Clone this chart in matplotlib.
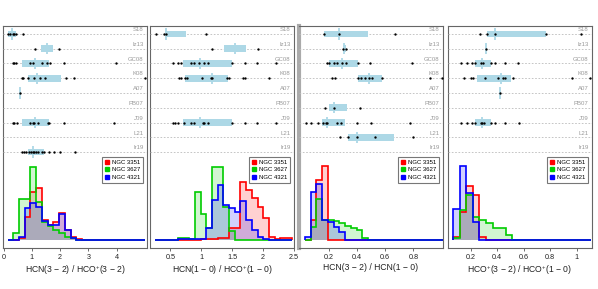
import numpy as np
import matplotlib
matplotlib.use('Agg')
import matplotlib.pyplot as plt
from matplotlib.lines import Line2D

plt.rcParams['font.family'] = ['Liberation Sans', 'DejaVu Sans']
plt.rcParams['mathtext.fontset'] = 'custom'
plt.rcParams['mathtext.rm'] = 'Liberation Sans'
plt.rcParams['mathtext.it'] = 'Liberation Sans:italic'

# literature rows, top to bottom
rows = ['S18', 'Iz13', 'GC08', 'K08', 'A07', 'PB07', 'J09', 'L21', 'Ir19']
galaxies = ['NGC 3351', 'NGC 3627', 'NGC 4321']

# --- panel 1: HCN(3-2)/HCO+(3-2) ---
hcn32_box = {'S18': (0.15, 0.44, 0.29), 'Iz13': (1.32, 1.76, 1.54), 'GC08': (0.64, 1.62, 1.12),
             'K08': (0.85, 2.03, 1.18), 'A07': (0.57, 0.57, 0.57), 'J09': (0.64, 1.59, 1.12),
             'Ir19': (0.85, 1.44, 1.05)}
hcn32_pts = {'S18': [0.14, 0.22, 0.32, 0.38, 0.44, 0.68],
             'Iz13': [1.11, 1.97],
             'GC08': [0.32, 0.38, 0.44, 0.94, 1.03, 1.35, 1.52, 1.64, 2.15, 3.98],
             'K08': [0.64, 0.67, 0.85, 1.09, 1.30, 1.48, 2.22, 2.50, 4.99],
             'A07': [0.57],
             'J09': [0.32, 0.38, 0.47, 0.94, 1.03, 1.09, 1.21, 1.56, 1.60, 2.15, 3.90],
             'Ir19': [0.64, 0.71, 0.79, 0.91, 0.97, 1.03, 1.09, 1.15, 1.23, 1.35, 1.44, 1.62,
                      1.77, 2.01, 2.53]}
hcn32_range = (0.14, 5.0)
hcn32_n3351 = [0, 0, 2, 23, 48, 52, 20, 15, 18, 27, 10, 3, 1, 0, 0, 0, 0, 0, 0, 0, 0, 0, 0, 0]
hcn32_n3627 = [0, 7, 41, 41, 73, 38, 18, 14, 10, 7, 3, 2, 0, 0, 0, 0, 0, 0, 0, 0, 0, 0, 0, 0]
hcn32_n4321 = [0, 0, 3, 32, 37, 33, 19, 15, 15, 26, 10, 2, 0, 0, 0, 0, 0, 0, 0, 0, 0, 0, 0, 0]

# --- panel 2: HCN(1-0)/HCO+(1-0) ---
hcn10_box = {'S18': (0.42, 0.755, 0.435), 'Iz13': (1.37, 1.73, 1.545), 'GC08': (0.70, 1.49, 0.985),
             'K08': (0.73, 1.43, 1.166), 'J09': (0.70, 1.49, 0.985)}
hcn10_pts = {'S18': [0.265, 0.393, 0.435, 1.075],
             'Iz13': [1.18, 1.918],
             'GC08': [0.542, 0.622, 0.665, 0.836, 0.877, 0.969, 1.049, 1.102, 1.502, 1.70, 1.90, 2.21],
             'K08': [0.638, 0.665, 0.729, 0.772, 1.012, 1.156, 1.18, 1.422, 1.449, 1.678, 1.705, 2.089],
             'J09': [0.542, 0.569, 0.622, 0.718, 0.836, 0.877, 1.02, 1.049, 1.102, 1.49, 1.70, 1.90, 2.21]}
hcn10_range = (0.258, 2.46)
hcn10_n3351 = [0, 0, 0, 0, 0, 0, 0, 0, 1, 1, 1, 2, 2, 12, 12, 58, 50, 42, 33, 22, 3, 1, 2, 2]
hcn10_n3627 = [0, 0, 0, 0, 2, 2, 1, 48, 26, 12, 73, 73, 33, 9, 0, 0, 0, 0, 0, 0, 0, 0, 0, 0]
hcn10_n4321 = [0, 0, 0, 0, 1, 1, 1, 1, 1, 12, 40, 55, 35, 32, 28, 39, 20, 10, 3, 1, 0, 0, 0, 0]

# --- panel 3: HCN(3-2)/HCN(1-0) ---
r31_box = {'S18': (0.167, 0.475, 0.271), 'Iz13': (0.300, 0.318, 0.309), 'GC08': (0.20, 0.409, 0.29),
           'K08': (0.409, 0.579, 0.485), 'PB07': (0.20, 0.326, 0.236), 'J09': (0.152, 0.314, 0.188),
           'L21': (0.338, 0.663, 0.402)}
r31_pts = {'S18': [0.167, 0.271, 0.67],
           'Iz13': [0.297, 0.318],
           'GC08': [0.188, 0.202, 0.236, 0.259, 0.29, 0.319, 0.409, 0.494, 0.789],
           'K08': [0.219, 0.243, 0.409, 0.425, 0.456, 0.485, 0.508, 0.579, 0.919, 1.002],
           'PB07': [0.171, 0.236, 0.42],
           'J09': [0.034, 0.072, 0.12, 0.16, 0.176, 0.188, 0.255, 0.283, 0.397, 0.499, 0.776],
           'L21': [0.278, 0.338, 0.402, 0.527, 0.80]}
r31_range = (0.029, 1.01)
r31_n3351 = [0, 20, 60, 74, 0, 0, 0, 0, 0, 0, 0, 0, 0, 0, 0, 0, 0, 0, 0, 0, 0, 0, 0, 0]
r31_n3627 = [0, 13, 41, 20, 20, 19, 17, 14, 12, 10, 2, 0, 0, 0, 0, 0, 0, 0, 0, 0, 0, 0, 0, 0]
r31_n4321 = [3, 48, 56, 20, 18, 13, 8, 0, 0, 0, 0, 0, 0, 0, 0, 0, 0, 0, 0, 0, 0, 0, 0, 0]

# --- panel 4: HCO+(3-2)/HCO+(1-0) ---
hco31_box = {'S18': (0.325, 0.77, 0.38), 'Iz13': (0.312, 0.312, 0.312), 'GC08': (0.23, 0.355, 0.285),
             'K08': (0.247, 0.50, 0.43), 'A07': (0.423, 0.423, 0.423), 'J09': (0.23, 0.355, 0.288)}
hco31_pts = {'S18': [0.268, 0.325, 0.38, 0.77, 1.03],
             'Iz13': [0.312],
             'GC08': [0.125, 0.168, 0.21, 0.23, 0.28, 0.293, 0.35, 0.38, 0.455, 0.56],
             'K08': [0.15, 0.20, 0.218, 0.31, 0.405, 0.443, 0.455, 0.517, 0.962, 1.097],
             'A07': [0.423],
             'J09': [0.125, 0.168, 0.21, 0.23, 0.275, 0.288, 0.30, 0.355, 0.38, 0.455, 0.567]}
hco31_range = (0.068, 1.105)
hco31_n3351 = [3, 28, 54, 45, 3, 0, 0, 0, 0, 0, 0, 0, 0, 0, 0, 0, 0, 0, 0, 0, 0]
hco31_n3627 = [2, 30, 45, 23, 20, 17, 12, 12, 5, 0, 0, 0, 0, 0, 0, 0, 0, 0, 0, 0, 0]
hco31_n4321 = [31, 74, 47, 18, 0, 0, 0, 0, 0, 0, 0, 0, 0, 0, 0, 0, 0, 0, 0, 0, 0]

panels = [
    dict(box=hcn32_box, pts=hcn32_pts, rng=hcn32_range, hist=[hcn32_n3351, hcn32_n3627, hcn32_n4321],
         xlim=(-0.02, 5.07), ticks=[0, 1, 2, 3, 4], labels=['0', '1', '2', '3', '4'],
         xlabel='HCN(3 − 2) / HCO$^{+}$(3 − 2)', left=3),
    dict(box=hcn10_box, pts=hcn10_pts, rng=hcn10_range, hist=[hcn10_n3351, hcn10_n3627, hcn10_n4321],
         xlim=(0.17, 2.49), ticks=[0.5, 1, 1.5, 2, 2.5], labels=['0.5', '1', '1.5', '2', '2.5'],
         xlabel='HCN(1 − 0) / HCO$^{+}$(1 − 0)', left=150),
    dict(box=r31_box, pts=r31_pts, rng=r31_range, hist=[r31_n3351, r31_n3627, r31_n4321],
         xlim=(-0.013, 1.011), ticks=[0.2, 0.4, 0.6, 0.8], labels=['0.2', '0.4', '0.6', '0.8'],
         xlabel='HCN(3 − 2) / HCN(1 − 0)', left=299),
    dict(box=hco31_box, pts=hco31_pts, rng=hco31_range, hist=[hco31_n3351, hco31_n3627, hco31_n4321],
         xlim=(0.028, 1.115), ticks=[0.2, 0.4, 0.6, 0.8, 1], labels=['0.2', '0.4', '0.6', '0.8', '1'],
         xlabel='HCO$^{+}$(3 − 2) / HCO$^{+}$(1 − 0)', left=448),
]

colors = ['#ff0000', '#00cc00', '#0000ff']
W, H = 598, 289
fig = plt.figure(figsize=(W / 100, H / 100), dpi=100)

for i, p in enumerate(panels):
    ax = fig.add_axes([p['left'] / W, (H - 248) / H, 144 / W, 222 / H])
    # histograms
    nb = len(p['hist'][0])
    edges = np.linspace(p['rng'][0], p['rng'][1], nb + 1)
    for vals, c in zip(p['hist'], colors):
        ax.stairs(vals, edges, fill=True, color=c, alpha=0.18, lw=0)
    for vals, c in zip(p['hist'], colors):
        ax.stairs(vals, edges, baseline=0, color=c, lw=1.2)
    ax.set_ylim(-8, 214)
    ax.set_xlim(*p['xlim'])
    ax.set_xticks(p['ticks'])
    ax.set_xticklabels(p['labels'])
    ax.set_yticks([])
    ax.tick_params(axis='x', direction='out', length=2.5, width=0.6, color='#555555',
                   labelsize=5.2, pad=1.5, labelcolor='#222222')
    ax.set_xlabel(p['xlabel'], fontsize=6.2, labelpad=2, color='#222222')
    for s in ax.spines.values():
        s.set_color('#666666')
        s.set_linewidth(0.8)
    if i == 2:
        ax.spines['left'].set_color('#aaaaaa')
        ax.spines['left'].set_linewidth(3)

    handles = [Line2D([], [], marker='s', ls='', color=c, markersize=2.8) for c in colors]
    leg = ax.legend(handles, galaxies, loc='upper right', bbox_to_anchor=(0.995, 0.425),
                    fontsize=4.3, frameon=True, fancybox=False, borderpad=0.55,
                    handlelength=0.8, handletextpad=0.3, labelspacing=0.35)
    leg.get_frame().set_edgecolor('#555555')
    leg.get_frame().set_linewidth(0.8)

    # literature rows
    axr = ax.twinx()
    axr.set_ylim(-6.5, 8.54)
    axr.set_yticks([])
    for s in axr.spines.values():
        s.set_visible(False)
    for k, name in enumerate(rows):
        y = len(rows) - 1 - k
        axr.axhline(y, color='#bbbbbb', lw=0.6, ls=(0, (2, 2)), zorder=1)
        axr.text(0.975, y + 0.12, name, transform=axr.get_yaxis_transform(), ha='right',
                 va='bottom', fontsize=4.3, color='#999999')
        if name in p['box']:
            lo, hi, med = p['box'][name]
            axr.barh(y, hi - lo, left=lo, height=0.45, color='#add8e6', zorder=2)
            axr.vlines(med, y - 0.38, y + 0.38, color='#add8e6', lw=1.3, zorder=2)
        if name in p['pts']:
            xs = p['pts'][name]
            axr.plot(xs, [y] * len(xs), 'o', color='black', markersize=1.7, mew=0, zorder=3)

fig.savefig('out.png', dpi=100)
